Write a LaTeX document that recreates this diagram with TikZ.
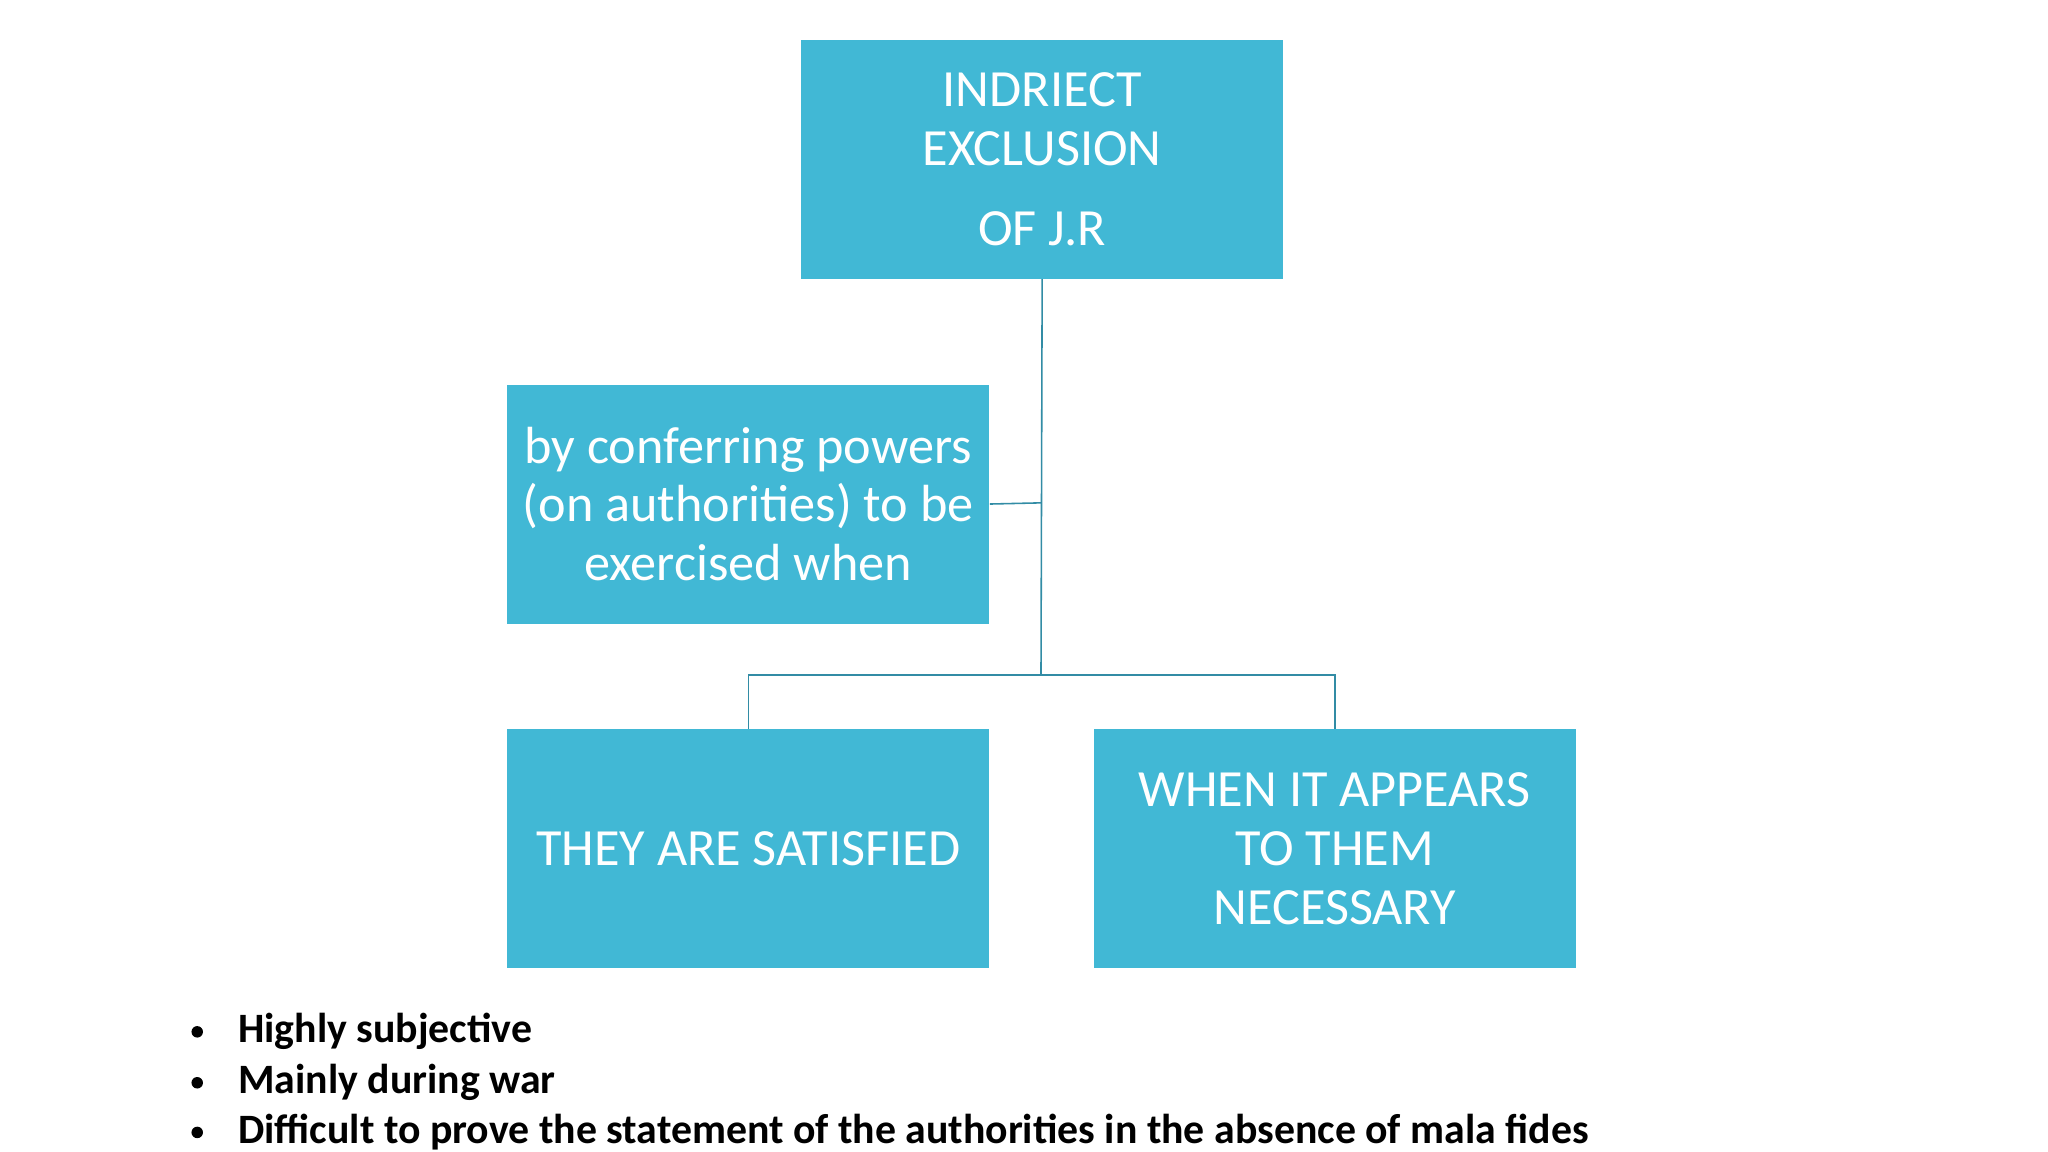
\documentclass[tikz,border=0pt]{standalone}
\usepackage{fontspec}
\setmainfont{Carlito}
\begin{document}
\begin{tikzpicture}[x=0.5pt,y=-0.5pt,
 box/.style={draw=none,fill={rgb,255:red,65;green,184;blue,213},text=white,minimum width=184.5pt,minimum height=91.5pt,inner sep=2pt,align=center,font=\fontsize{20}{22.5}\selectfont,anchor=north west},
 ln/.style={draw={rgb,255:red,50;green,140;blue,165},line width=0.6pt},
 bul/.style={anchor=west,font=\fontsize{16}{18}\selectfont\bfseries,inner sep=0pt}]
\useasboundingbox (0,0) rectangle (1568,882);
\fill[white] (0,0) rectangle (1568,882);
\node[box] (top) at (613,30) {INDRIECT\\EXCLUSION\\[8pt]OF J.R};
\node[box] (mid) at (388,294) {by conferring powers\\(on authorities) to be\\exercised when};
\node[box] (bl) at (388,558) {THEY ARE SATISFIED};
\node[box] (br) at (837,558) {WHEN IT APPEARS\\TO THEM\\NECESSARY};
\coordinate (j) at (797,517);
\draw[ln] (top.south) -- (j);
\draw[ln] (mid.east) -- (797,385);
\draw[ln] (bl.north) |- (j) -| (br.north);
\node[bul] (b1) at (182,790) {Highly subjective};
\node[bul] (b2) at (182,829) {Mainly during war};
\node[bul] (b3) at (182,867) {Difficult to prove the statement of the authorities in the absence of mala fides};
\foreach \y in {790,829,867} \fill (151,\y) circle (2.2pt);
\end{tikzpicture}
\end{document}
